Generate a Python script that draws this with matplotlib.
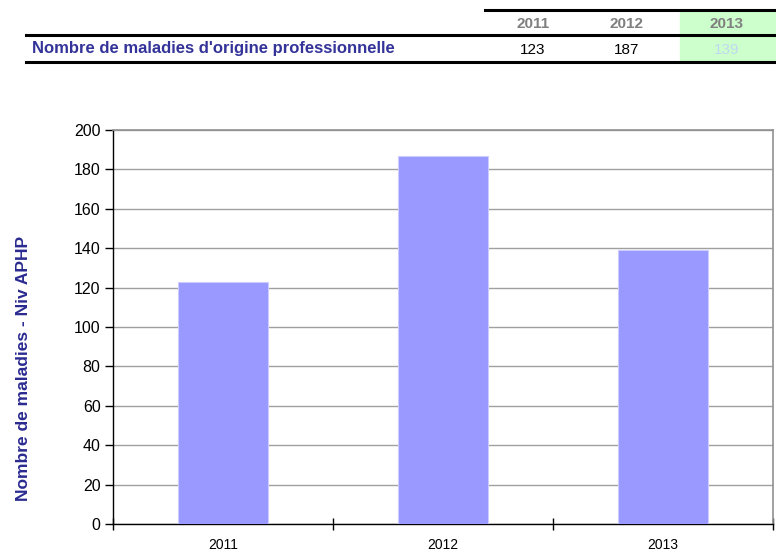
import matplotlib
matplotlib.use("Agg")
import matplotlib.pyplot as plt
import numpy as np

# data
years = ["2011", "2012", "2013"]
counts = [123, 187, 139]
row_label = "Nombre de maladies d'origine professionnelle"
ylabel = "Nombre de maladies - Niv APHP"

plt.rcParams['font.family'] = ['Liberation Sans', 'DejaVu Sans']

W, H = 776, 553
fig = plt.figure(figsize=(W / 100, H / 100), dpi=100)

# table at the top, drawn in pixel coords of the figure
def fx(px):
    return px / W

def fy(py):
    return 1 - py / H

fig.patches.append(plt.Rectangle((fx(680), fy(62)), fx(776) - fx(680), fy(11) - fy(62),
                                 transform=fig.transFigure, color="#ccffcc", zorder=0))
fig.add_artist(plt.Line2D([fx(485), fx(776)], [fy(10), fy(10)], color="black", lw=2.2))
fig.add_artist(plt.Line2D([fx(26), fx(776)], [fy(35), fy(35)], color="black", lw=2.2))
fig.add_artist(plt.Line2D([fx(26), fx(776)], [fy(62), fy(62)], color="black", lw=2.2))

col_x = [533, 627, 727]
for i, (yr, c) in enumerate(zip(years, counts)):
    fig.text(fx(col_x[i]), fy(24), yr, ha="center", va="center", fontsize=11,
             fontweight="bold", color="#808080")
    fig.text(fx(col_x[i]), fy(50), str(c), ha="center", va="center", fontsize=11,
             color="#c0d8f0" if i == 2 else "black")
fig.text(fx(32), fy(49), row_label, ha="left", va="center", fontsize=12,
         fontweight="bold", color="#333399")

# bar chart
ax = fig.add_axes([fx(113), fy(524), fx(773) - fx(113), fy(130) - fy(524)])
x = np.arange(len(years))
ax.bar(x, counts, width=0.41, color="#9999ff", edgecolor="#ccccff", linewidth=0.8, zorder=3)

ax.set_xlim(-0.5, 2.5)
ax.set_ylim(0, 200)
ax.set_yticks(np.arange(0, 201, 20))
ax.yaxis.grid(True, color="#a0a0a0", lw=1, zorder=0)
ax.set_axisbelow(True)

ax.set_xticks(x)
ax.set_xticklabels(years, fontsize=10)
ax.tick_params(axis="x", length=0, pad=10)
ax.set_xticks(np.arange(-0.5, 2.6, 1), minor=True)
ax.tick_params(axis="x", which="minor", direction="inout", length=9, width=1)
ax.tick_params(axis="y", direction="out", length=6, width=1, labelsize=11.5, pad=3)

for s in ["left", "bottom"]:
    ax.spines[s].set_color("black")
    ax.spines[s].set_linewidth(1)
for s in ["top", "right"]:
    ax.spines[s].set_color("#909090")
    ax.spines[s].set_linewidth(1.2)

fig.text(fx(24), fy(368), ylabel, rotation=90, ha="center", va="center",
         fontsize=12.5, fontweight="bold", color="#2a2a90")

fig.savefig("out.png", dpi=100)
